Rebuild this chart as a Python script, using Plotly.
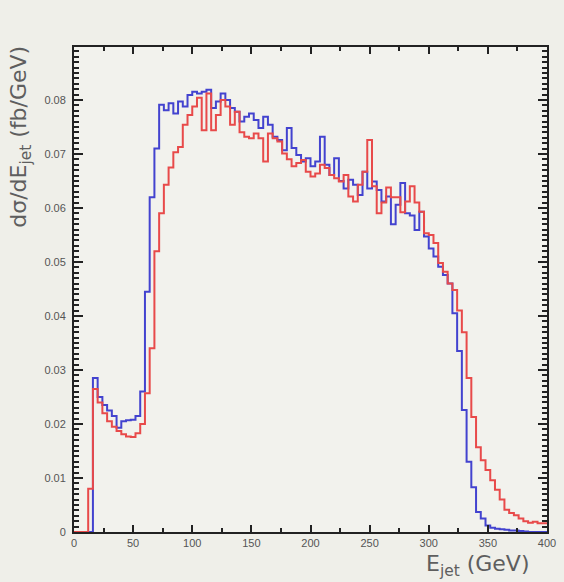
import numpy as np
import plotly.graph_objects as go

# Jet energy spectrum, 4 GeV bins from 0 to 400 GeV (dsigma/dE_jet in fb/GeV)
bin_width = 4.0
e_min, e_max = 0.0, 400.0

blue_vals = [
    0, 0, 0, 0, 0.0285, 0.0250, 0.0235, 0.0225, 0.0215, 0.0193,
    0.0205, 0.0207, 0.0208, 0.0215, 0.0260, 0.0445, 0.0620, 0.0710, 0.0791, 0.0781,
    0.0794, 0.0775, 0.0797, 0.0788, 0.0809, 0.0815, 0.0812, 0.0815, 0.0819, 0.0785,
    0.0797, 0.0812, 0.0800, 0.0785, 0.0778, 0.0760, 0.0769, 0.0775, 0.0763, 0.0748,
    0.0769, 0.0754, 0.0732, 0.0726, 0.0707, 0.0748, 0.0711, 0.0698, 0.0686, 0.0692,
    0.0677, 0.0686, 0.0732, 0.0680, 0.0661, 0.0692, 0.0650, 0.0636, 0.0652, 0.0643,
    0.0624, 0.0667, 0.0636, 0.0649, 0.0633, 0.0612, 0.0621, 0.0570, 0.0606, 0.0646,
    0.0590, 0.0586, 0.0559, 0.0593, 0.0547, 0.0525, 0.0510, 0.0491, 0.0476, 0.0460,
    0.0405, 0.0335, 0.0226, 0.0130, 0.0083, 0.0037, 0.0025, 0.0012, 0.0008, 0.0006,
    0.0005, 0.0004, 0.0003, 0.0003, 0.0002, 0.0001, 0, 0, 0, 0,
]

red_vals = [
    0, 0, 0, 0.0080, 0.0265, 0.0240, 0.0220, 0.0205, 0.0195, 0.0187,
    0.0181, 0.0177, 0.0176, 0.0183, 0.0200, 0.0257, 0.0340, 0.0520, 0.0590, 0.0643,
    0.0675, 0.0703, 0.0713, 0.0754, 0.0772, 0.0788, 0.0804, 0.0744, 0.0812, 0.0744,
    0.0772, 0.0800, 0.0788, 0.0754, 0.0778, 0.0740, 0.0732, 0.0729, 0.0738, 0.0729,
    0.0686, 0.0738, 0.0729, 0.0723, 0.0701, 0.0690, 0.0677, 0.0683, 0.0689, 0.0667,
    0.0658, 0.0664, 0.0680, 0.0674, 0.0661, 0.0655, 0.0649, 0.0661, 0.0621, 0.0612,
    0.0643, 0.0667, 0.0726, 0.0640, 0.0590, 0.0610, 0.0638, 0.0620, 0.0620, 0.0592,
    0.0612, 0.0640, 0.0610, 0.0593, 0.0553, 0.0550, 0.0535, 0.0498, 0.0482, 0.0460,
    0.0448, 0.0410, 0.0370, 0.0285, 0.0213, 0.0157, 0.0133, 0.0115, 0.0096, 0.0078,
    0.0060, 0.0041, 0.0035, 0.0031, 0.0025, 0.0020, 0.0017, 0.0019, 0.0016, 0.0016,
]

x_ticks = [0, 50, 100, 150, 200, 250, 300, 350, 400]
x_tick_text = ["0", "50", "100", "150", "200", "250", "300", "350", "400"]
y_ticks = [0, 0.01, 0.02, 0.03, 0.04, 0.05, 0.06, 0.07, 0.08]
y_tick_text = ["0", "0.01", "0.02", "0.03", "0.04", "0.05", "0.06", "0.07", "0.08"]

edges = np.arange(e_min, e_max + bin_width / 2, bin_width)


def step_trace(vals, color):
    # histogram outline: each bin's value held across its width
    y = list(vals) + [vals[-1]]
    return go.Scatter(
        x=edges, y=y, mode="lines",
        line=dict(color=color, width=2, shape="hv"),
        showlegend=False, hoverinfo="skip",
    )


fig = go.Figure()
fig.add_trace(step_trace(blue_vals, "#4343cf"))
fig.add_trace(step_trace(red_vals, "#e84a4a"))

tick_font = dict(family="Liberation Sans, Arial, sans-serif", size=11, color="#555555")

fig.update_xaxes(
    range=[e_min, e_max], showgrid=False, zeroline=False,
    showline=True, linecolor="#222222", linewidth=2, mirror="allticks",
    ticks="inside", ticklen=7, tickwidth=1.5, tickcolor="#222222",
    tickvals=x_ticks, ticktext=x_tick_text, tickfont=tick_font,
    minor=dict(ticks="inside", dtick=25, ticklen=4, tickcolor="#222222", tickwidth=1.5),
)
fig.update_yaxes(
    range=[0, 0.0898], showgrid=False, zeroline=False,
    showline=True, linecolor="#222222", linewidth=2, mirror="allticks",
    ticks="inside", ticklen=9, tickwidth=1.5, tickcolor="#222222",
    tickvals=y_ticks, ticktext=y_tick_text, tickfont=tick_font, ticklabelstandoff=4,
    minor=dict(ticks="inside", dtick=0.001, ticklen=5, tickcolor="#222222", tickwidth=1.5),
)

title_font = dict(family="DejaVu Sans, sans-serif", size=22, color="#5e5e5e")

fig.add_annotation(
    text="dσ/dE<sub>jet</sub> (fb/GeV)", textangle=-90,
    xref="paper", yref="paper", x=-0.112, y=0.815,
    xanchor="center", yanchor="middle", showarrow=False, font=title_font,
)
fig.add_annotation(
    text="E<sub>jet</sub> (GeV)",
    xref="paper", yref="paper", x=0.853, y=-0.07,
    xanchor="center", yanchor="middle", showarrow=False, font=title_font,
)

fig.update_layout(
    width=564, height=582,
    margin=dict(l=74, r=8, t=47, b=50),
    paper_bgcolor="#efefe9", plot_bgcolor="#f2f2ed",
)

fig.write_html("out.html")
